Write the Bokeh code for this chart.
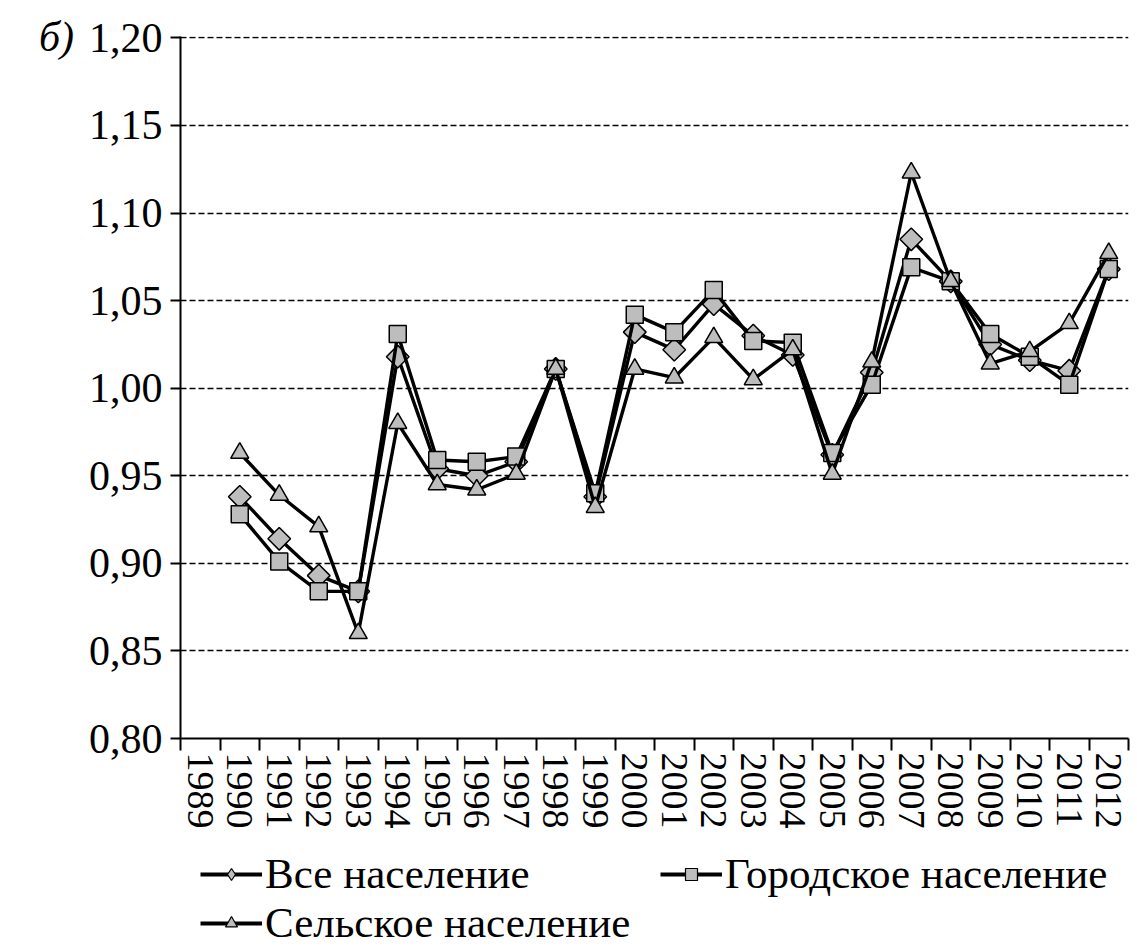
import math
from bokeh.plotting import figure
from bokeh.layouts import column
from bokeh.models import (FixedTicker, Range1d, Legend, LegendItem,
                          CustomJSTickFormatter, ColumnDataSource)
from bokeh.embed import file_html
from bokeh.resources import INLINE

# ---- data ----
axis_years = list(range(1989, 2013))          # category labels on the x axis
years = list(range(1990, 2013))               # years with data
total = [0.938, 0.914, 0.893, 0.884, 1.018, 0.954, 0.950, 0.958, 1.011, 0.938,
         1.032, 1.022, 1.048, 1.030, 1.019, 0.962, 1.009, 1.085, 1.061, 1.025,
         1.016, 1.010, 1.068]
urban = [0.928, 0.901, 0.884, 0.884, 1.031, 0.959, 0.958, 0.961, 1.011, 0.940,
         1.042, 1.032, 1.056, 1.027, 1.026, 0.963, 1.002, 1.069, 1.061, 1.031,
         1.018, 1.002, 1.068]
rural = [0.963, 0.939, 0.921, 0.860, 0.980, 0.945, 0.942, 0.951, 1.011, 0.932,
         1.011, 1.006, 1.029, 1.005, 1.022, 0.951, 1.015, 1.123, 1.061, 1.014,
         1.021, 1.037, 1.077]
y_ticks = [0.80, 0.85, 0.90, 0.95, 1.00, 1.05, 1.10, 1.15, 1.20]
series_names = ["Все население", "Городское население", "Сельское население"]
panel_label = "б)"

# ---- positions derived from categories ----
first = axis_years[0]
ncat = len(axis_years)
xc = [y - first + 0.5 for y in years]
centers = [i + 0.5 for i in range(ncat)]
bounds = list(range(ncat + 1))

FONT = "Liberation Serif"
W = 1130

p = figure(width=W, height=838, output_backend="svg", toolbar_location=None,
           x_range=Range1d(0, ncat), y_range=Range1d(y_ticks[0], y_ticks[-1] + 0.0008),
           min_border_left=180, min_border_top=36, min_border_right=2,
           min_border_bottom=100)
p.outline_line_color = None
p.background_fill_color = "white"

# grid
p.xgrid.visible = False
p.ygrid.ticker = FixedTicker(ticks=y_ticks[1:])
p.ygrid.grid_line_color = "black"
p.ygrid.grid_line_dash = "6 3"
p.ygrid.grid_line_width = 1.6

# y axis
p.yaxis.ticker = FixedTicker(ticks=y_ticks)
p.yaxis.formatter = CustomJSTickFormatter(code="return tick.toFixed(2).replace('.', ',');")
p.yaxis.major_label_text_font = FONT
p.yaxis.major_label_text_font_size = "42px"
p.yaxis.major_label_text_color = "black"
p.yaxis.axis_line_width = 2
p.yaxis.axis_line_color = "black"
p.yaxis.major_tick_line_color = "black"
p.yaxis.major_tick_line_width = 2
p.yaxis.major_tick_in = 0
p.yaxis.major_tick_out = 10
p.yaxis.minor_tick_line_color = None
p.yaxis.major_label_standoff = 8
p.yaxis.axis_label = panel_label
p.yaxis.axis_label_text_font = FONT
p.yaxis.axis_label_text_font_style = "italic"
p.yaxis.axis_label_text_font_size = "42px"
p.yaxis.axis_label_text_color = "black"
p.yaxis.axis_label_standoff = 12
p.yaxis.axis_label_orientation = "horizontal"
if "axis_label_align" in p.yaxis[0].properties():
    p.yaxis.axis_label_align = "end"

# x axis
p.xaxis.ticker = FixedTicker(ticks=centers, minor_ticks=bounds)
p.xaxis.major_label_overrides = {c: str(y) for c, y in zip(centers, axis_years)}
p.xaxis.major_label_orientation = "vertical"
p.xaxis.major_label_text_font = FONT
p.xaxis.major_label_text_font_size = "38px"
p.xaxis.major_label_text_color = "black"
p.xaxis.axis_line_width = 2
p.xaxis.axis_line_color = "black"
p.xaxis.major_tick_line_color = None
p.xaxis.major_tick_in = 0
p.xaxis.major_tick_out = 12
p.xaxis.minor_tick_line_color = "black"
p.xaxis.minor_tick_line_width = 2
p.xaxis.minor_tick_in = 0
p.xaxis.minor_tick_out = 12
p.xaxis.major_label_standoff = 2

src = ColumnDataSource(dict(x=xc, total=total, urban=urban, rural=rural))

specs = [("total", "square", 16, math.pi / 4, "diamond", 17),
         ("urban", "square", 17, 0.0, "square", 12),
         ("rural", "triangle", 18, 0.0, "triangle", 13)]
for (col, marker, size, angle, _, _), name in zip(specs, series_names):
    p.line("x", col, source=src, line_color="black", line_width=3.4)
    p.scatter("x", col, source=src, marker=marker, size=size, angle=angle,
              fill_color="#bdbdbd", line_color="black", line_width=1.5)

# ---- legend figure below (legend swatches only; dummy renderers lie outside its range) ----
lf = figure(width=W, height=109, output_backend="svg", toolbar_location=None,
            x_range=Range1d(0, 1), y_range=Range1d(0, 1),
            x_axis_location=None, y_axis_location=None,
            min_border=0, min_border_left=0, min_border_right=0,
            min_border_top=0, min_border_bottom=0)
lf.outline_line_color = None
lf.grid.visible = False
dummy = ColumnDataSource(dict(x=[-10], y=[-10]))
items = []
for (_, _, _, _, lmarker, lsize), name in zip(specs, series_names):
    lr = lf.line("x", "y", source=dummy, line_color="black", line_width=4)
    dr = lf.scatter("x", "y", source=dummy, marker=lmarker, size=lsize,
                    fill_color="#bdbdbd", line_color="black", line_width=1.2)
    items.append(LegendItem(label=name, renderers=[lr, dr]))

legend = Legend(items=items, orientation="horizontal", ncols=2, location=(20, 0),
                label_text_font=FONT, label_text_font_size="43px",
                label_text_color="black", glyph_width=62, glyph_height=30,
                label_standoff=3, label_width=395, spacing=0, padding=0, margin=0,
                border_line_color=None, background_fill_alpha=0)
lf.add_layout(legend, "center")

layout = column(p, lf, spacing=0)
open("out.html", "w").write(file_html(layout, INLINE))
